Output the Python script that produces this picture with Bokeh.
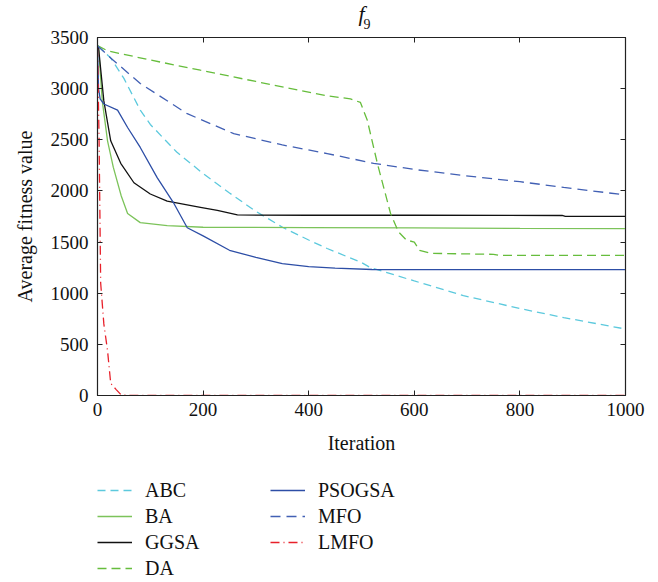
from bokeh.plotting import figure
from bokeh.layouts import column
from bokeh.models import Range1d, LinearAxis, Legend, LegendItem, Label, FixedTicker
from bokeh.embed import file_html
from bokeh.resources import INLINE

# ---- data ----
abc_x = [0, 25, 50, 81, 100, 150, 200, 250, 300, 352, 400, 435, 500, 517, 600, 693, 800, 883, 1000]
abc_y = [3420, 3300, 3100, 2790, 2650, 2380, 2170, 1980, 1800, 1640, 1520, 1437, 1300, 1250, 1120, 977, 850, 762, 650]

ba_x = [0, 2, 9, 19, 30, 45, 57, 81, 132, 200, 400, 600, 800, 1000]
ba_y = [3420, 3400, 2880, 2490, 2230, 1950, 1780, 1690, 1660, 1645, 1642, 1638, 1634, 1632]

ggsa_x = [0, 2, 12, 25, 44, 69, 100, 132, 195, 227, 265, 400, 600, 880, 886, 1000]
ggsa_y = [3420, 3400, 2880, 2490, 2270, 2080, 1970, 1900, 1840, 1810, 1765, 1762, 1762, 1760, 1752, 1752]

da_x = [0, 19, 100, 195, 300, 435, 479, 498, 511, 530, 555, 570, 585, 600, 610, 631, 750, 760, 1000]
da_y = [3420, 3370, 3280, 3180, 3070, 2930, 2900, 2865, 2690, 2270, 1780, 1600, 1520, 1500, 1420, 1390, 1380, 1370, 1370]

pso_x = [0, 2, 5, 12, 38, 57, 81, 113, 145, 170, 200, 250, 300, 350, 400, 450, 520, 1000]
pso_y = [3420, 3000, 2900, 2850, 2790, 2620, 2425, 2130, 1875, 1640, 1560, 1420, 1350, 1290, 1260, 1245, 1232, 1230]

mfo_x = [0, 25, 81, 170, 258, 350, 435, 523, 600, 693, 800, 883, 1000]
mfo_y = [3420, 3300, 3050, 2755, 2560, 2450, 2365, 2270, 2210, 2150, 2090, 2035, 1960]

lmfo_x = [0, 3, 6, 12, 19, 25, 35, 45, 60, 200, 400, 600, 800, 1000]
lmfo_y = [3400, 2500, 1100, 700, 440, 120, 60, 5, 0, 0, 0, 0, 0, 0]

x_ticks = [0, 200, 400, 600, 800, 1000]
y_ticks = [0, 500, 1000, 1500, 2000, 2500, 3000, 3500]

names = ["ABC", "BA", "GGSA", "DA", "PSOGSA", "MFO", "LMFO"]

FONT = "Liberation Serif"

p = figure(width=650, height=462, output_backend="svg", toolbar_location=None,
           x_range=Range1d(0, 1000), y_range=Range1d(0, 3500),
           frame_width=528, frame_height=358,
           min_border_left=97, min_border_right=25, min_border_top=37, min_border_bottom=67)
p.xgrid.visible = False
p.ygrid.visible = False
p.outline_line_color = "#222222"
p.outline_line_width = 1.2
p.background_fill_color = "white"

for ax in (p.xaxis[0], p.yaxis[0]):
    ax.major_tick_in = 5
    ax.major_tick_out = 0
    ax.minor_tick_line_color = None
    ax.axis_line_color = "#222222"
    ax.major_tick_line_color = "#222222"
    ax.major_label_text_font = FONT
    ax.major_label_text_font_size = "19px"
    ax.major_label_text_color = "#111111"
    ax.axis_label_text_font = FONT
    ax.axis_label_text_font_size = "20px"
    ax.axis_label_text_font_style = "normal"
    ax.axis_label_text_color = "#111111"
p.xaxis[0].ticker = FixedTicker(ticks=x_ticks)
p.yaxis[0].ticker = FixedTicker(ticks=y_ticks)
p.xaxis[0].axis_label = "Iteration"
p.yaxis[0].axis_label = "Average fitness value"
p.xaxis[0].major_label_standoff = 7
p.yaxis[0].major_label_standoff = 9
p.xaxis[0].axis_label_standoff = 13
p.yaxis[0].axis_label_standoff = 12

top_ax = LinearAxis(ticker=FixedTicker(ticks=x_ticks),
                    major_label_overrides={t: "" for t in x_ticks}, major_label_standoff=0,
                    major_tick_in=5, major_tick_out=0, minor_tick_line_color=None,
                    axis_line_color="#222222", major_tick_line_color="#222222")
right_ax = LinearAxis(ticker=FixedTicker(ticks=y_ticks),
                      major_label_overrides={t: "" for t in y_ticks},
                      major_tick_in=5, major_tick_out=0, minor_tick_line_color=None,
                      axis_line_color="#222222", major_tick_line_color="#222222")
p.add_layout(top_ax, "above")
p.add_layout(right_ax, "right")

W = 1.3
styles = [
    dict(line_color="#5cc9dd", line_width=W, line_dash="8 5"),
    dict(line_color="#7cc35a", line_width=W),
    dict(line_color="#111111", line_width=W),
    dict(line_color="#66bd3c", line_width=W, line_dash="9 5"),
    dict(line_color="#2d4ea6", line_width=W),
    dict(line_color="#4260b4", line_width=W, line_dash="10 6"),
    dict(line_color="#e8202a", line_width=W, line_dash="9 4 1 4"),
]
series = [(abc_x, abc_y), (ba_x, ba_y), (ggsa_x, ggsa_y), (da_x, da_y),
          (pso_x, pso_y), (mfo_x, mfo_y), (lmfo_x, lmfo_y)]
for (xs, ys), st in zip(series, styles):
    p.line(xs, ys, **st)

# title: italic f with subscript 9
p.title.text = "f"
p.title.text_font = FONT
p.title.text_font_style = "italic"
p.title.text_font_size = "22px"
p.title.text_color = "#111111"
p.title.align = "center"
p.title.vertical_align = "top"
p.title.offset = -14
p.title.standoff = 0
p.add_layout(Label(x=266, y=14, x_units="screen", y_units="screen", text="9", text_font=FONT,
                   text_font_size="14px", text_align="left", text_baseline="alphabetic",
                   text_color="#111111"), "above")

# legend panel below the chart
q = figure(width=650, height=120, output_backend="svg", toolbar_location=None,
           x_range=Range1d(0, 1), y_range=Range1d(0, 1),
           x_axis_location=None, y_axis_location=None,
           min_border_left=97, min_border_top=15, min_border_right=0, min_border_bottom=0)
q.xgrid.visible = False
q.ygrid.visible = False
q.outline_line_color = None
items = []
for name, (xs, ys), st in zip(names, series, styles):
    r = q.line(xs, ys, visible=False, **st)
    items.append(LegendItem(label=name, renderers=[r]))
legend = Legend(items=items, orientation="vertical", nrows=4, location="top_left",
                label_text_font=FONT, label_text_font_size="20px", label_text_color="#111111",
                glyph_width=35, glyph_height=20, label_standoff=13, label_width=125, label_height=26,
                spacing=0, padding=0, margin=0, border_line_color=None, background_fill_alpha=0)
q.add_layout(legend, "center")

open("out.html", "w").write(file_html(column(p, q, spacing=0), INLINE))
